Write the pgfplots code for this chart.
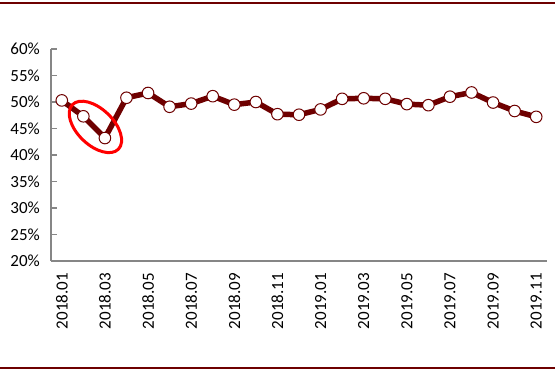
\documentclass[border=0pt]{standalone}
\usepackage{pgfplots}
\pgfplotsset{compat=1.18}
\usepackage{fontspec}
\setmainfont{Carlito}
\usetikzlibrary{shapes.geometric}
\definecolor{maroon}{RGB}{110,0,0}
\definecolor{axgray}{RGB}{134,134,134}
\begin{document}
\begin{tikzpicture}
\path[use as bounding box] (0,0) rectangle (555bp,373bp);
\draw[maroon, line width=2.5bp] (0,370bp) -- (555bp,370bp);
\draw[maroon, line width=2.5bp] (0,5bp) -- (555bp,5bp);
\begin{axis}[
  at={(51bp,112bp)}, anchor=south west,
  width=496bp, height=212bp, scale only axis,
  xmin=0.5, xmax=23.5, ymin=20, ymax=60,
  axis x line*=bottom, axis y line*=left,
  axis line style={axgray, line width=1.5bp},
  every tick/.style={axgray, line width=1.5bp},
  tick align=inside,
  major tick length=6bp, minor tick length=6bp,
  ytick={20,25,...,60},
  yticklabels={20\%,25\%,30\%,35\%,40\%,45\%,50\%,55\%,60\%},
  yticklabel style={font=\fontsize{17bp}{19bp}\selectfont, inner sep=0pt, xshift=-11bp},
  xtick={1,3,...,23},
  xticklabels={2018.01,2018.03,2018.05,2018.07,2018.09,2018.11,2019.01,2019.03,2019.05,2019.07,2019.09,2019.11},
  x tick style={draw=none},
  minor xtick={0.5,1.5,...,23.5},
  minor x tick style={axgray, line width=1.5bp},
  xticklabel style={font=\fontsize{17bp}{19bp}\selectfont, rotate=90, anchor=east, inner sep=0pt, xshift=-12bp},
  clip=false,
]
\addplot[maroon, line width=5.5bp, mark=*, mark size=5.8bp, mark options={fill=white, draw=maroon, line width=1bp}] coordinates {
(1,50.3) (2,47.3) (3,43.2) (4,50.8) (5,51.7) (6,49.1) (7,49.7) (8,51.1) (9,49.5) (10,50.0) (11,47.7) (12,47.6) (13,48.6) (14,50.6) (15,50.7) (16,50.6) (17,49.6) (18,49.4) (19,51.0) (20,51.8) (21,49.9) (22,48.3) (23,47.2)
};
\node[draw=red, line width=3bp, ellipse, inner sep=0pt, minimum width=64bp, minimum height=36bp, rotate=-44] at (axis cs:2.56,45.3) {};
\end{axis}
\end{tikzpicture}
\end{document}
